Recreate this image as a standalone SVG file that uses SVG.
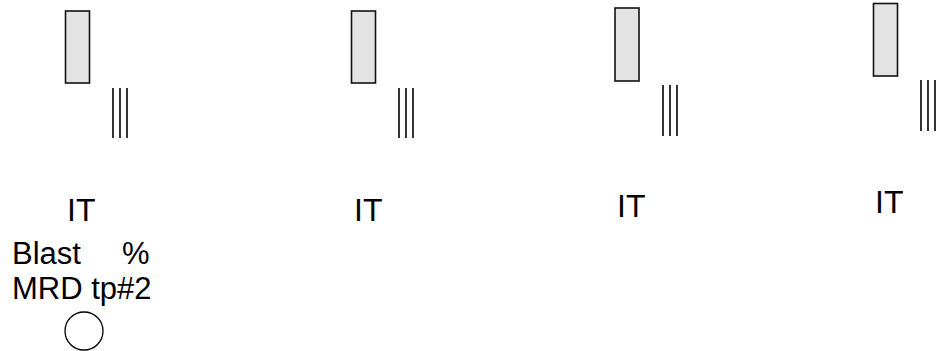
<svg xmlns="http://www.w3.org/2000/svg" width="946" height="351" viewBox="0 0 946 351">
<style>
.box{fill:#e3e3e3;stroke:#111;stroke-width:1.6}
.bar{stroke:#000;stroke-width:1.6}
.t{font-family:"Liberation Sans",Arial,sans-serif;font-size:31px;fill:#000}
.it{font-family:"Liberation Sans",Arial,sans-serif;font-size:32px;fill:#000}
</style>
<g id="col1">
<rect class="box" x="65.5" y="11" width="24" height="72"/>
<line class="bar" x1="113" y1="88" x2="113" y2="138"/>
<line class="bar" x1="120" y1="88" x2="120" y2="138"/>
<line class="bar" x1="127" y1="88" x2="127" y2="138"/>
<text class="it" x="67" y="221">IT</text>
</g>
<g id="col2">
<rect class="box" x="351.5" y="11" width="24" height="72"/>
<line class="bar" x1="399" y1="88" x2="399" y2="138"/>
<line class="bar" x1="406" y1="88" x2="406" y2="138"/>
<line class="bar" x1="413" y1="88" x2="413" y2="138"/>
<text class="it" x="354" y="221">IT</text>
</g>
<g id="col3">
<rect class="box" x="615" y="8" width="24" height="73"/>
<line class="bar" x1="663" y1="85" x2="663" y2="136"/>
<line class="bar" x1="670" y1="85" x2="670" y2="136"/>
<line class="bar" x1="677" y1="85" x2="677" y2="136"/>
<text class="it" x="617" y="217">IT</text>
</g>
<g id="col4">
<rect class="box" x="873.5" y="3.5" width="24" height="72.5"/>
<line class="bar" x1="921" y1="80" x2="921" y2="131"/>
<line class="bar" x1="928" y1="80" x2="928" y2="131"/>
<line class="bar" x1="935" y1="80" x2="935" y2="131"/>
<text class="it" x="875" y="213">IT</text>
</g>
<g id="legend">
<text class="t" x="12" y="264">Blast<tspan x="122">%</tspan></text>
<text class="t" x="12" y="299">MRD tp#2</text>
<circle cx="84" cy="331" r="19" fill="none" stroke="#000" stroke-width="1.3"/>
</g>
<g id="connectors"/>
</svg>
